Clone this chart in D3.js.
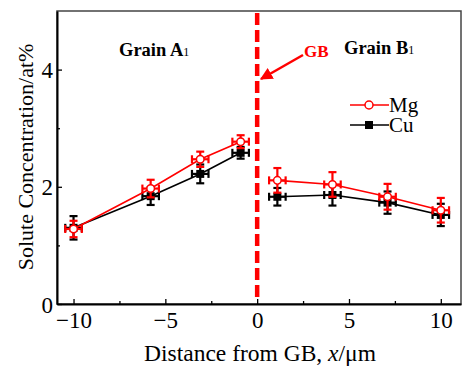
<!DOCTYPE html>
<html>
<head>
<meta charset="utf-8">
<script src="https://cdn.jsdelivr.net/npm/d3@7"></script>
<style>
  body { margin: 0; background: #fff; }
  svg { display: block; font-family: "Liberation Serif", "DejaVu Serif", serif; }
</style>
</head>
<body>
<svg id="chart" width="464" height="367"></svg>
<script>
// distance from GB (um)
const xPos = [-10, -5.8, -3.1, -0.9, 1.1, 4.1, 7.1, 10];
const mgValues = [1.28, 1.97, 2.47, 2.77, 2.11, 2.04, 1.83, 1.60];
const mgErr = [0.14, 0.15, 0.13, 0.11, 0.21, 0.21, 0.22, 0.21];
const cuValues = [1.30, 1.84, 2.22, 2.58, 1.83, 1.86, 1.73, 1.52];
const cuErr = [0.20, 0.15, 0.16, 0.10, 0.15, 0.18, 0.19, 0.19];
const xErr = 0.45;
const xTicks = [-10, -5, 0, 5, 10];
const xMinor = [-7.5, -2.5, 2.5, 7.5];
const yTicks = [0, 2, 4];
const yMinor = [1, 3];

const svg = d3.select('#chart');
const margin = { top: 11, right: 3, bottom: 63, left: 57 };
const width = 464, height = 367;
const innerWidth = width - margin.left - margin.right;
const innerHeight = height - margin.top - margin.bottom;

const x = d3.scaleLinear().domain([-10.9, 11.1]).range([0, innerWidth]);
const y = d3.scaleLinear().domain([0, 5]).range([innerHeight, 0]);

const grp = svg.append('g')
  .attr('transform', 'translate(' + margin.left + ',' + margin.top + ')');

// frame
grp.append('rect')
  .attr('width', innerWidth).attr('height', innerHeight)
  .attr('fill', 'none').attr('stroke', '#444').attr('stroke-width', 1.5);

// axes (ticks inside)
const xAxis = grp.append('g')
  .attr('transform', 'translate(0,' + innerHeight + ')')
  .call(d3.axisBottom(x).tickValues(xTicks).tickSizeInner(-5).tickSizeOuter(0)
    .tickFormat(d => d < 0 ? '\u2212' + Math.abs(d) : d));
grp.append('g')
  .attr('transform', 'translate(0,' + innerHeight + ')')
  .call(d3.axisBottom(x).tickValues(xMinor).tickSizeInner(-3).tickSizeOuter(0).tickFormat(''))
  .select('.domain').remove();
const yAxis = grp.append('g')
  .call(d3.axisLeft(y).tickValues(yTicks).tickSizeInner(-5).tickSizeOuter(0)
    .tickFormat(d3.format('d')));
grp.append('g')
  .call(d3.axisLeft(y).tickValues(yMinor).tickSizeInner(-3).tickSizeOuter(0).tickFormat(''))
  .select('.domain').remove();

grp.selectAll('.domain').attr('stroke', '#000').attr('stroke-width', 2);
grp.selectAll('.tick line').attr('stroke', '#000').attr('stroke-width', 1.3);
xAxis.selectAll('text').attr('font-size', 23).attr('font-family', 'Liberation Serif')
  .attr('fill', '#000').attr('y', 6).attr('dy', '0.8em');
yAxis.selectAll('text').attr('font-size', 23).attr('font-family', 'Liberation Serif')
  .attr('fill', '#000').attr('dy', '0.35em').attr('x', -4);

// axis titles
svg.append('text')
  .attr('transform', 'translate(33,157) rotate(-90)')
  .attr('text-anchor', 'middle')
  .attr('font-size', 22)
  .text('Solute Concentration/at%');
const xl = svg.append('text')
  .attr('x', 260).attr('y', 361)
  .attr('text-anchor', 'middle')
  .attr('font-size', 23.5);
xl.append('tspan').text('Distance from GB, ');
xl.append('tspan').attr('font-style', 'italic').text('x');
xl.append('tspan').text('/\u03bcm');

// grain boundary line
grp.append('line')
  .attr('x1', x(0)).attr('x2', x(0))
  .attr('y1', 2).attr('y2', innerHeight - 6)
  .attr('stroke', '#f00').attr('stroke-width', 4.5)
  .attr('stroke-dasharray', '12,5');

// annotations
svg.append('defs').append('marker')
  .attr('id', 'arrow').attr('viewBox', '0 0 10 10')
  .attr('refX', 9).attr('refY', 5)
  .attr('markerWidth', 5).attr('markerHeight', 5)
  .attr('orient', 'auto')
  .append('path').attr('d', 'M0,0L10,5L0,10z').attr('fill', '#f00');
svg.append('line')
  .attr('x1', 303).attr('y1', 55).attr('x2', 261).attr('y2', 79)
  .attr('stroke', '#f00').attr('stroke-width', 2.5)
  .attr('marker-end', 'url(#arrow)');
svg.append('text')
  .attr('x', 304).attr('y', 57)
  .attr('fill', '#f00').attr('font-weight', 'bold').attr('font-size', 17)
  .text('GB');

function grainLabel(px, py, main) {
  const t = svg.append('text').attr('x', px).attr('y', py).attr('font-size', 18.5);
  t.append('tspan').attr('font-weight', 'bold').text(main);
  t.append('tspan').attr('font-size', 12).text('1');
}
grainLabel(119, 56, 'Grain A');
grainLabel(344, 54, 'Grain B');

// series
function drawSeries(vals, errs, color, filled) {
  const g = grp.append('g');
  const pts = xPos.map((d, i) => ({ x: d, y: vals[i], e: errs[i] }));
  const line = d3.line().x(d => x(d.x)).y(d => y(d.y));
  g.append('path').datum(pts.slice(0, 4)).attr('d', line)
    .attr('fill', 'none').attr('stroke', color).attr('stroke-width', 1.6);
  g.append('path').datum(pts.slice(4)).attr('d', line)
    .attr('fill', 'none').attr('stroke', color).attr('stroke-width', 1.6);
  const eb = g.selectAll('.eb').data(pts).enter().append('g')
    .attr('stroke', color).attr('stroke-width', 2.2);
  eb.append('line')
    .attr('x1', d => x(d.x)).attr('x2', d => x(d.x))
    .attr('y1', d => y(d.y - d.e)).attr('y2', d => y(d.y + d.e));
  eb.append('line')
    .attr('x1', d => x(d.x) - 4).attr('x2', d => x(d.x) + 4)
    .attr('y1', d => y(d.y - d.e)).attr('y2', d => y(d.y - d.e));
  eb.append('line')
    .attr('x1', d => x(d.x) - 4).attr('x2', d => x(d.x) + 4)
    .attr('y1', d => y(d.y + d.e)).attr('y2', d => y(d.y + d.e));
  eb.append('line')
    .attr('x1', d => x(d.x - xErr)).attr('x2', d => x(d.x + xErr))
    .attr('y1', d => y(d.y)).attr('y2', d => y(d.y));
  eb.append('line')
    .attr('x1', d => x(d.x - xErr)).attr('x2', d => x(d.x - xErr))
    .attr('y1', d => y(d.y) - 4).attr('y2', d => y(d.y) + 4);
  eb.append('line')
    .attr('x1', d => x(d.x + xErr)).attr('x2', d => x(d.x + xErr))
    .attr('y1', d => y(d.y) - 4).attr('y2', d => y(d.y) + 4);
  if (filled) {
    g.selectAll('.m').data(pts).enter().append('rect')
      .attr('x', d => x(d.x) - 4).attr('y', d => y(d.y) - 4)
      .attr('width', 8).attr('height', 8).attr('fill', color);
  } else {
    g.selectAll('.m').data(pts).enter().append('circle')
      .attr('cx', d => x(d.x)).attr('cy', d => y(d.y)).attr('r', 3.8)
      .attr('fill', '#fff').attr('stroke', color).attr('stroke-width', 1.5);
  }
}
drawSeries(cuValues, cuErr, '#000', true);
drawSeries(mgValues, mgErr, '#f00', false);

// legend
const legend = svg.append('g');
const items = [
  { name: 'Mg', color: '#f00', filled: false, y: 105 },
  { name: 'Cu', color: '#000', filled: true, y: 125 },
];
items.forEach(it => {
  legend.append('line').attr('x1', 350).attr('x2', 389).attr('y1', it.y).attr('y2', it.y)
    .attr('stroke', it.color).attr('stroke-width', 1.6);
  if (it.filled) {
    legend.append('rect').attr('x', 365).attr('y', it.y - 4).attr('width', 8).attr('height', 8)
      .attr('fill', it.color);
  } else {
    legend.append('circle').attr('cx', 369).attr('cy', it.y).attr('r', 4)
      .attr('fill', '#fff').attr('stroke', it.color).attr('stroke-width', 1.5);
  }
  legend.append('text').attr('x', 389).attr('y', it.y + 7).attr('font-size', 21)
    .text(it.name);
});
</script>
</body>
</html>
